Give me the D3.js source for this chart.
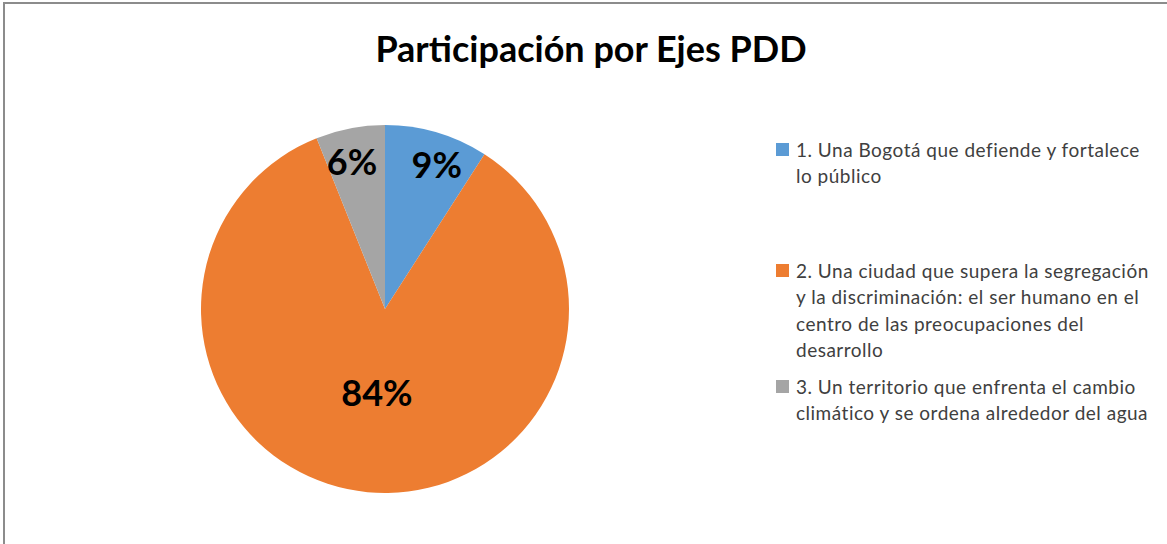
<!DOCTYPE html>
<html lang="es">
<head>
    <meta charset="UTF-8">
    <title>Participación por Ejes PDD</title>
    <script src="https://d3js.org/d3.v7.min.js"></script>
    <style>
        html, body { margin: 0; padding: 0; background: #fff; overflow: hidden; }
        svg { display: block; font-family: Lato, "Open Sans", sans-serif; }
    </style>
</head>
<body>
    <svg width="1167" height="544"></svg>
    <script>
        const categories = [
            '1. Una Bogotá que defiende y fortalece lo público',
            '2. Una ciudad que supera la segregación y la discriminación: el ser humano en el centro de las preocupaciones del desarrollo',
            '3. Un territorio que enfrenta el cambio climático y se ordena alrededor del agua'
        ];
        // wrapped lines as they appear in the legend
        const legendLines = [
            ['1. Una Bogotá  que defiende y fortalece', 'lo público'],
            ['2. Una ciudad que supera la segregación', 'y la discriminación: el ser humano en el', 'centro de las preocupaciones del', 'desarrollo'],
            ['3. Un territorio que enfrenta el cambio', 'climático y se ordena alrededor del agua']
        ];
        const values = [9, 84, 6];
        const colors = ['#5B9BD5', '#ED7D31', '#A5A5A5'];
        const title = 'Participación por Ejes PDD';

        const cx = 385, cy = 309, radius = 184;

        const svg = d3.select('svg');

        // chart frame (only top and left edges are in view)
        svg.append('rect')
            .attr('x', 4).attr('y', 3)
            .attr('width', 1300).attr('height', 700)
            .attr('fill', 'none')
            .attr('stroke', '#8c8c8c')
            .attr('stroke-width', 2);

        svg.append('text')
            .attr('x', 591).attr('y', 62)
            .attr('text-anchor', 'middle')
            .attr('font-size', 36)
            .attr('font-weight', 'bold')
            .attr('fill', '#000')
            .text(title);

        const data = values.map((v, i) => ({ name: categories[i], value: v, color: colors[i] }));

        const pie = d3.pie().value(d => d.value).sort(null);
        const arcs = pie(data);
        const arc = d3.arc().innerRadius(0).outerRadius(radius);

        const g = svg.append('g').attr('transform', `translate(${cx},${cy})`);

        g.selectAll('path')
            .data(arcs)
            .enter()
            .append('path')
            .attr('d', arc)
            .attr('fill', d => d.data.color);

        // label distance from centre, as a share of the radius (best-fit placement)
        const labelRatio = [0.83, 0.46, 0.82];
        const labelShift = [0.06, 0, -0.03];   // small angular nudge, radians

        g.selectAll('text.pct')
            .data(arcs)
            .enter()
            .append('text')
            .attr('class', 'pct')
            .attr('transform', (d, i) => {
                const a = (d.startAngle + d.endAngle) / 2 + labelShift[i];
                const r = radius * labelRatio[i];
                return `translate(${Math.sin(a) * r},${-Math.cos(a) * r})`;
            })
            .attr('text-anchor', 'middle')
            .attr('dy', '0.36em')
            .attr('font-size', 36)
            .attr('font-weight', 'bold')
            .attr('fill', '#000')
            .text(d => Math.round(d.value) + '%');

        const legend = svg.append('g').attr('transform', 'translate(776,0)');
        const itemTop = [150, 271, 387];
        const lineH = 26.5;

        legendLines.forEach((lines, i) => {
            const item = legend.append('g').attr('transform', `translate(0,${itemTop[i]})`);
            item.append('rect')
                .attr('x', 0).attr('y', -7)
                .attr('width', 13).attr('height', 13)
                .attr('fill', colors[i]);
            item.selectAll('text')
                .data(lines)
                .enter()
                .append('text')
                .attr('x', 20)
                .attr('y', (d, j) => j * lineH)
                .attr('dy', '0.35em')
                .attr('font-size', 19)
                .attr('letter-spacing', 0.5)
                .attr('fill', '#404040')
                .text(d => d);
        });
    </script>
</body>
</html>
